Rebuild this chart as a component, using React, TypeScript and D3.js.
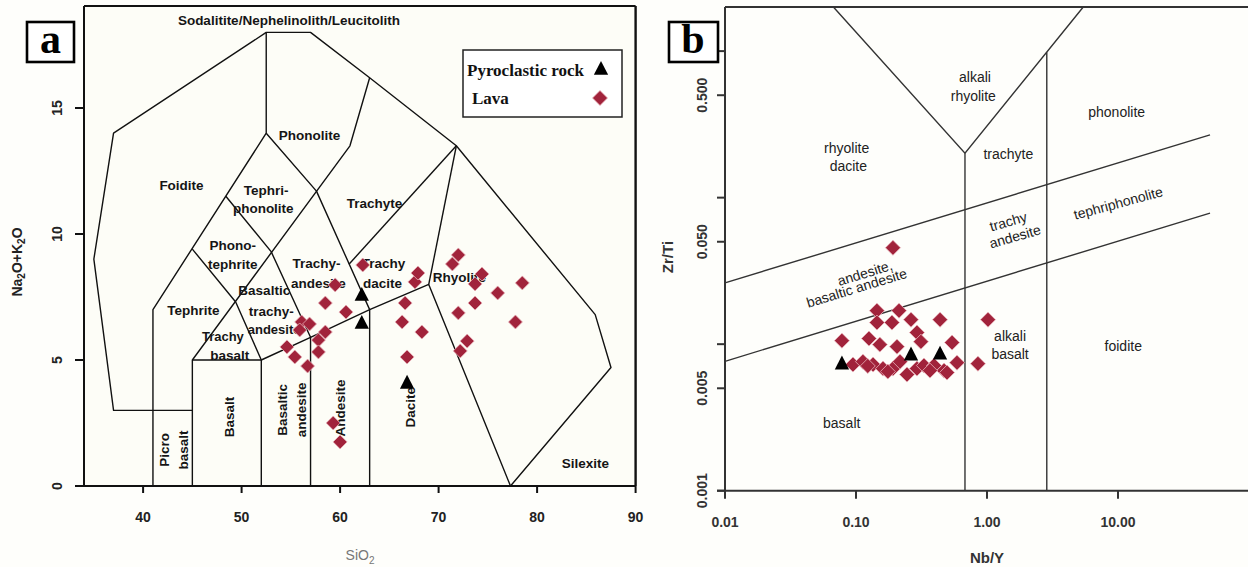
import React from 'react';
import * as d3 from 'd3';

// ---------- Panel a : TAS diagram ----------
const tasXTicks = [40, 50, 60, 70, 80, 90];
const tasYTicks = [0, 5, 10, 15];

const tasLines: [number, number][][] = [
  [[45, 3], [37, 3], [35, 9], [37, 14], [52.5, 18], [57, 18], [63, 16.2], [71.8, 13.5], [85.9, 6.8], [87.5, 4.7], [77.3, 0]],
  [[41, 0], [41, 7], [52.5, 14], [52.5, 18]],
  [[45, 0], [45, 5], [52, 5], [52, 0]],
  [[45, 5], [61, 13.5], [63, 16.2]],
  [[52, 5], [57, 5.9], [63, 7], [69, 8], [77.3, 0]],
  [[57, 0], [57, 5.9]],
  [[63, 0], [63, 7]],
  [[45, 9.4], [49.4, 7.3], [52, 5]],
  [[48.4, 11.5], [53, 9.3], [57, 5.9]],
  [[52.5, 14], [57.6, 11.7], [63, 7]],
  [[71.8, 13.5], [60.9, 8.8]],
  [[71.8, 13.5], [69, 8]],
];

const tasLabelText = ['Sodalitite/Nephelinolith/Leucitolith', 'Foidite', 'Phonolite', 'Tephri-', 'phonolite', 'Phono-', 'tephrite', 'Trachyte', 'Trachy-', 'andesite', 'Trachy', 'dacite', 'Rhyolite', 'Basaltic', 'trachy-', 'andesite', 'Tephrite', 'Trachy', 'basalt', 'Picro', 'basalt', 'Basalt', 'Basaltic', 'andesite', 'Andesite', 'Dacite', 'Silexite'];
const tasLabelSiO2 = [54.8, 43.9, 56.9, 52.5, 52.2, 49.1, 49.1, 63.5, 57.6, 57.8, 64.4, 64.3, 69.4, 52.3, 53.0, 53.3, 45.1, 48.1, 48.8, 42.2, 44.05, 48.8, 54.1, 56.1, 60.0, 67.1, 84.9];
const tasLabelAlk = [18.5, 11.94, 13.93, 11.75, 11.03, 9.56, 8.81, 11.23, 8.85, 8.06, 8.85, 8.06, 8.29, 7.75, 6.95, 6.22, 6.98, 5.93, 5.17, 1.43, 1.43, 2.74, 3.02, 3.02, 3.1, 3.13, 0.91];
const tasLabelVertical = [false, false, false, false, false, false, false, false, false, false, false, false, false, false, false, false, false, false, false, true, true, true, true, true, true, true, false];

const lavaSiO2 = [62.3, 59.5, 58.5, 60.6, 56.1, 56.9, 58.5, 55.9, 57.8, 54.6, 57.8, 55.4, 56.7, 59.3, 60.0, 67.6, 67.9, 66.6, 66.3, 68.3, 66.8, 72.0, 71.4, 74.4, 73.7, 78.5, 76.0, 73.7, 72.0, 77.8, 72.9, 72.2];
const lavaAlk = [8.77, 7.98, 7.26, 6.9, 6.51, 6.43, 6.11, 6.19, 5.79, 5.52, 5.32, 5.12, 4.76, 2.5, 1.75, 8.1, 8.45, 7.26, 6.51, 6.11, 5.12, 9.17, 8.81, 8.41, 8.02, 8.06, 7.66, 7.26, 6.87, 6.51, 5.75, 5.36];
const pyroSiO2 = [62.2, 62.2, 66.8];
const pyroAlk = [7.58, 6.47, 4.09];

// ---------- Panel b : Zr/Ti vs Nb/Y ----------
const nbyTicks = [0.01, 0.1, 1, 10];
const nbyTickLabels = ['0.01', '0.10', '1.00', '10.00'];
const zrtiTicks = [0.001, 0.005, 0.01, 0.05, 0.1, 0.5, 1];
const zrtiTickLabels = ['0.001', '0.005', '', '0.050', '', '0.500', ''];

const wfLines: [number, number][][] = [
  [[0.0672, 2], [0.679, 0.201], [5.43, 2]],
  [[0.679, 0.201], [0.679, 0.001]],
  [[2.86, 0.983], [2.86, 0.001]],
  [[0.01, 0.0262], [50.4, 0.268]],
  [[0.01, 0.00764], [50.4, 0.0785]],
];

const wfLabelText = ['alkali', 'rhyolite', 'phonolite', 'trachyte', 'rhyolite', 'dacite', 'trachy', 'andesite', 'tephriphonolite', 'andesite,', 'basaltic andesite', 'basalt', 'alkali', 'basalt', 'foidite'];
const wfLabelNbY = [0.809, 0.786, 9.77, 1.455, 0.0849, 0.0874, 1.455, 1.637, 10.05, 0.117, 0.1012, 0.0778, 1.5, 1.5, 10.97];
const wfLabelZrTi = [0.664, 0.494, 0.386, 0.199, 0.218, 0.163, 0.0687, 0.0543, 0.0918, 0.0306, 0.0242, 0.0029, 0.01132, 0.00849, 0.00966];
const wfLabelTilt = [0, 0, 0, 0, 0, 0, -16, -16, -15, -17, -17, 0, 0, 0, 0];

const lavaNbY = [0.1915, 0.1445, 0.213, 0.263, 0.1445, 0.188, 0.438, 1.018, 0.292, 0.313, 0.0781, 0.1256, 0.152, 0.2056, 0.541, 0.0948, 0.113, 0.135, 0.1607, 0.1915, 0.245, 0.292, 0.33, 0.394, 0.47, 0.59, 0.853, 0.495, 0.2168, 0.175, 0.367, 0.123];
const lavaZrTi = [0.0455, 0.01694, 0.01694, 0.0147, 0.01404, 0.01404, 0.0147, 0.0147, 0.012, 0.0104, 0.01057, 0.01092, 0.00993, 0.00962, 0.01025, 0.00726, 0.0076, 0.00726, 0.00681, 0.00681, 0.0062, 0.00681, 0.00715, 0.00715, 0.0066, 0.00748, 0.00736, 0.0064, 0.0076, 0.0065, 0.0066, 0.0071];
const pyroNbY = [0.0781, 0.263, 0.438];
const pyroZrTi = [0.00736, 0.00849, 0.0086];

// ---------- styling ----------
const SANS = 'Liberation Sans, Arial, sans-serif';
const SERIF = 'Liberation Serif, Times New Roman, serif';
const RED = '#a1233b';
const RED_EDGE = '#e8b2ba';

const diamond = (r: number) => `M0,${-r}L${r},0L0,${r}L${-r},0Z`;
const triangle = (s: number) => `M0,${-s * 0.62}L${s * 0.55},${s * 0.45}L${-s * 0.55},${s * 0.45}Z`;

function PanelA() {
  const x = d3.scaleLinear().domain([34, 90]).range([84, 635.6]);
  const y = d3.scaleLinear().domain([0, 15]).range([486, 108]);
  const line = d3.line<[number, number]>().x(d => x(d[0])).y(d => y(d[1]));
  const top = 6;
  return (
    <g>
      <rect x={x(34)} y={top} width={x(90) - x(34)} height={y(0) - top} fill="#fdfdf7" />
      {tasLines.map((l, i) => (
        <path key={i} d={line(l) || ''} fill="none" stroke="#111" strokeWidth={1.4} strokeLinejoin="round" />
      ))}
      {tasLabelText.map((t, i) => {
        const px = x(tasLabelSiO2[i]);
        const py = y(tasLabelAlk[i]);
        const small = i === 15 || i === 17;
        return (
          <text key={i} x={px} y={py} dy="0.35em" textAnchor={t === 'Rhyolite' ? 'start' : 'middle'}
            transform={tasLabelVertical[i] ? `rotate(-90 ${px} ${py})` : undefined}
            fontFamily={SANS} fontWeight="bold" fontSize={small ? 13 : 13.5} fill="#151515">{t}</text>
        );
      })}
      {/* frame */}
      <line x1={x(34)} x2={x(90)} y1={top} y2={top} stroke="#111" strokeWidth={2} />
      <line x1={x(34)} x2={x(34)} y1={top} y2={y(0)} stroke="#111" strokeWidth={2} />
      <line x1={x(90)} x2={x(90)} y1={top} y2={y(0)} stroke="#111" strokeWidth={2.4} />
      <line x1={75} x2={x(90)} y1={y(0)} y2={y(0)} stroke="#111" strokeWidth={2.2} />
      {tasXTicks.map(v => (
        <g key={v}>
          <line x1={x(v)} x2={x(v)} y1={y(0)} y2={y(0) + 7} stroke="#111" strokeWidth={2} />
          <text x={x(v)} y={517} dy="0.35em" textAnchor="middle" fontFamily={SANS} fontWeight="bold" fontSize={14} fill="#222">{v}</text>
        </g>
      ))}
      {tasYTicks.map(v => (
        <g key={v}>
          <line x1={75} x2={x(34)} y1={y(v)} y2={y(v)} stroke="#111" strokeWidth={2} />
          <text x={57} y={y(v)} dy="0.35em" textAnchor="middle" transform={`rotate(-90 57 ${y(v)})`}
            fontFamily={SANS} fontWeight="bold" fontSize={14} fill="#222">{v}</text>
        </g>
      ))}
      <text x={360} y={555} dy="0.35em" textAnchor="middle" fontFamily={SANS} fontSize={14} fill="#777">
        SiO<tspan fontSize={10} dy="4">2</tspan>
      </text>
      <text x={17} y={262} dy="0.35em" textAnchor="middle" transform="rotate(-90 17 262)" fontFamily={SANS} fontWeight="bold" fontSize={14} fill="#222">
        Na<tspan fontSize={10} dy="3">2</tspan><tspan dy="-3">O+K</tspan><tspan fontSize={10} dy="3">2</tspan><tspan dy="-3">O</tspan>
      </text>
      {/* points */}
      {lavaSiO2.map((v, i) => (
        <path key={'l' + i} d={diamond(7)} transform={`translate(${x(v)},${y(lavaAlk[i])})`} fill={RED} stroke={RED_EDGE} strokeWidth={0.8} />
      ))}
      {pyroSiO2.map((v, i) => (
        <path key={'p' + i} d={triangle(13)} transform={`translate(${x(v)},${y(pyroAlk[i])})`} fill="#000" />
      ))}
      {/* legend */}
      <rect x={463} y={50} width={159} height={67} fill="#fff" stroke="#222" strokeWidth={1.5} />
      <text x={467} y={76} fontFamily={SERIF} fontWeight="bold" fontSize={17} fill="#111">Pyroclastic rock</text>
      <path d={triangle(13)} transform="translate(601,69)" fill="#000" />
      <text x={472} y={104} fontFamily={SERIF} fontWeight="bold" fontSize={17} fill="#111">Lava</text>
      <path d={diamond(7.5)} transform="translate(600,98)" fill={RED} stroke={RED_EDGE} strokeWidth={0.8} />
      {/* panel letter */}
      <rect x={27} y={22} width={47} height={40} fill="#fff" stroke="#000" strokeWidth={2.6} />
      <text x={50.5} y={53} textAnchor="middle" fontFamily={SERIF} fontWeight="bold" fontSize={42} fill="#000">a</text>
    </g>
  );
}

function PanelB() {
  const x = d3.scaleLog().domain([0.01, 100]).range([725, 1249]);
  const y = d3.scaleLog().domain([0.001, 2]).range([490.7, 7]);
  const line = d3.line<[number, number]>().x(d => x(d[0])).y(d => y(d[1]));
  return (
    <g>
      {wfLines.map((l, i) => (
        <path key={i} d={line(l) || ''} fill="none" stroke="#333" strokeWidth={1.4} />
      ))}
      {wfLabelText.map((t, i) => {
        const px = x(wfLabelNbY[i]);
        const py = y(wfLabelZrTi[i]);
        return (
          <text key={i} x={px} y={py} dy="0.35em" textAnchor="middle"
            transform={wfLabelTilt[i] ? `rotate(${wfLabelTilt[i]} ${px} ${py})` : undefined}
            fontFamily={SANS} fontSize={14} fill="#222">{t}</text>
        );
      })}
      {/* frame */}
      <line x1={x(0.01)} x2={1248} y1={7} y2={7} stroke="#333" strokeWidth={2} />
      <line x1={x(0.01)} x2={x(0.01)} y1={7} y2={y(0.001)} stroke="#333" strokeWidth={2} />
      <line x1={717} x2={1248} y1={y(0.001)} y2={y(0.001)} stroke="#333" strokeWidth={2} />
      {nbyTicks.map((v, i) => (
        <g key={v}>
          <line x1={x(v)} x2={x(v)} y1={y(0.001)} y2={y(0.001) + 8} stroke="#333" strokeWidth={2} />
          <text x={x(v)} y={522} dy="0.35em" textAnchor="middle" fontFamily={SANS} fontWeight="bold" fontSize={14} fill="#333">{nbyTickLabels[i]}</text>
        </g>
      ))}
      {zrtiTicks.map((v, i) => (
        <g key={v}>
          <line x1={717} x2={x(0.01)} y1={y(v)} y2={y(v)} stroke="#333" strokeWidth={2} />
          {zrtiTickLabels[i] && (
            <text x={702} y={y(v)} dy="0.35em" textAnchor="middle" transform={`rotate(-90 702 ${y(v)})`}
              fontFamily={SANS} fontWeight="bold" fontSize={14} fill="#333">{zrtiTickLabels[i]}</text>
          )}
        </g>
      ))}
      <text x={987} y={558} dy="0.35em" textAnchor="middle" fontFamily={SANS} fontWeight="bold" fontSize={15} fill="#333">Nb/Y</text>
      <text x={668} y={257} dy="0.35em" textAnchor="middle" transform="rotate(-90 668 257)" fontFamily={SANS} fontWeight="bold" fontSize={15} fill="#333">Zr/Ti</text>
      {lavaNbY.map((v, i) => (
        <path key={'l' + i} d={diamond(7.5)} transform={`translate(${x(v)},${y(lavaZrTi[i])})`} fill={RED} stroke={RED_EDGE} strokeWidth={0.8} />
      ))}
      {pyroNbY.map((v, i) => (
        <path key={'p' + i} d={triangle(13)} transform={`translate(${x(v)},${y(pyroZrTi[i])})`} fill="#000" />
      ))}
      <rect x={669} y={22} width={49} height={40} fill="#fff" stroke="#000" strokeWidth={2.6} />
      <text x={693} y={53} textAnchor="middle" fontFamily={SERIF} fontWeight="bold" fontSize={42} fill="#000">b</text>
    </g>
  );
}

export default function App() {
  return (
    <svg width={1248} height={567} style={{ position: 'absolute', left: 0, top: 0, background: '#fff' }}>
      <rect x={0} y={0} width={1248} height={567} fill="#fefefb" />
      <PanelA />
      <PanelB />
    </svg>
  );
}
